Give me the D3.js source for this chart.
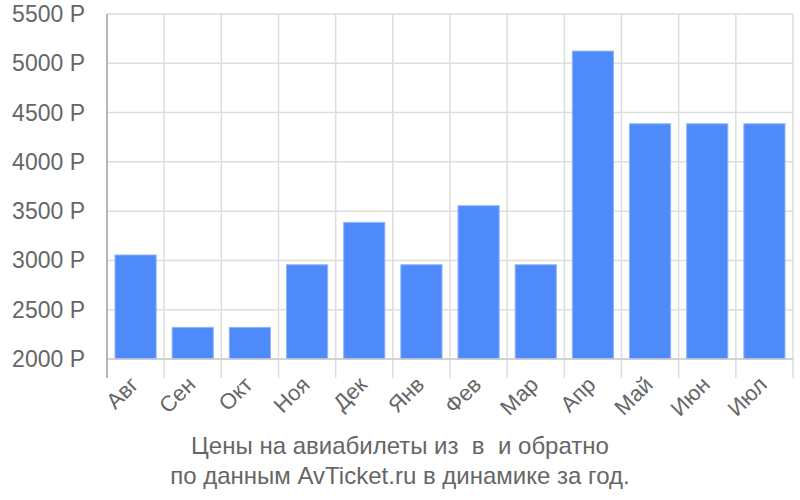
<!DOCTYPE html>
<html><head><meta charset="utf-8">
<script src="https://cdn.jsdelivr.net/npm/d3@7"></script>
<style>body{margin:0;background:#fff}svg{display:block}text{font-family:"Liberation Sans",Arial,sans-serif}</style>
</head><body>
<script>
const categories = ["Авг","Сен","Окт","Ноя","Дек","Янв","Фев","Мар","Апр","Май","Июн","Июл"];
const prices = [3055,2321,2321,2956,3386,2956,3555,2956,5124,4386,4386,4386];
const yTicks = [2000,2500,3000,3500,4000,4500,5000,5500];
const titleLines = ["Цены на авиабилеты из  в  и обратно","по данным AvTicket.ru в динамике за год."];

const W=800,H=500, mLeft=107, mRight=793, mTop=14, mBottom=359;
const svg=d3.select("body").append("svg").attr("width",W).attr("height",H);
const x=d3.scaleBand().domain(categories).range([mLeft,mRight]).paddingInner(0.28).paddingOuter(0.14);
const y=d3.scaleLinear().domain([2000,5500]).range([mBottom,mTop]);

// horizontal grid
svg.append("g").selectAll("line").data(yTicks).join("line")
  .attr("x1",mLeft).attr("x2",mRight).attr("y1",d=>y(d)).attr("y2",d=>y(d))
  .attr("stroke","#dddddd").attr("stroke-width",1.5);
// vertical grid at band boundaries
const bounds=d3.range(categories.length+1).map(i=>mLeft+i*(mRight-mLeft)/categories.length);
svg.append("g").selectAll("line").data(bounds.slice(1)).join("line")
  .attr("x1",d=>d).attr("x2",d=>d).attr("y1",mTop).attr("y2",mBottom+19)
  .attr("stroke","#dddddd").attr("stroke-width",1.5);

// bars
svg.append("g").selectAll("rect").data(categories).join("rect")
  .attr("x",d=>x(d)).attr("width",x.bandwidth())
  .attr("y",(d,i)=>y(prices[i])).attr("height",(d,i)=>mBottom-y(prices[i]))
  .attr("fill","#4e8af9").attr("stroke","#8fb5fb").attr("stroke-width",1);

// baseline
svg.append("line").attr("x1",mLeft).attr("x2",mRight).attr("y1",mBottom).attr("y2",mBottom)
  .attr("stroke","#cccccc").attr("stroke-width",1.5);
// left axis line
svg.append("line").attr("x1",mLeft).attr("x2",mLeft).attr("y1",mTop).attr("y2",mBottom+19)
  .attr("stroke","#a0a0a0").attr("stroke-width",1.5);

// y labels
svg.append("g").selectAll("text").data(yTicks).join("text")
  .attr("x",85).attr("y",d=>y(d)).attr("dy","0.35em").attr("text-anchor","end")
  .attr("font-size",23).attr("fill","#666").text(d=>d+" Р");

// x labels
svg.append("g").selectAll("text").data(categories).join("text")
  .attr("text-anchor","end").attr("font-size",22).attr("fill","#666")
  .attr("transform",d=>`translate(${x(d)+x.bandwidth()/2+4},${mBottom+27}) rotate(-45)`)
  .text(d=>d);

// title
svg.append("g").selectAll("text").data(titleLines).join("text")
  .attr("x",400).attr("y",(d,i)=>454+i*30).attr("text-anchor","middle")
  .attr("font-size",24).attr("fill","#666").attr("xml:space","preserve").style("white-space","pre").text(d=>d);
</script>
</body></html>
